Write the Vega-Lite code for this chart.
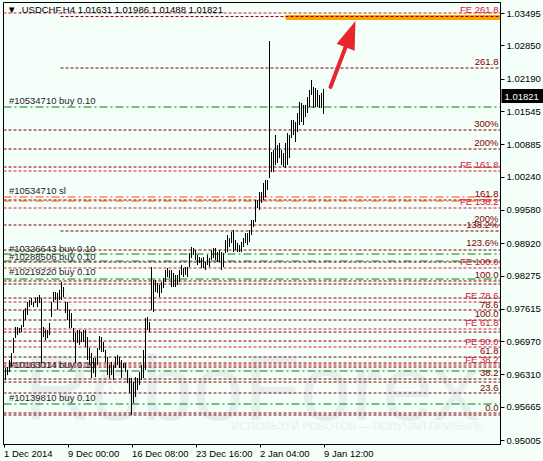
{
"$schema":"https://vega.github.io/schema/vega-lite/v6.json",
"width":497,"height":442,
"autosize":{"type":"none"},
"padding":{"left":3,"top":2,"right":43,"bottom":17},
"background":"#F5FFFA",
"config":{"view":{"stroke":"#000","strokeWidth":1},"font":"Liberation Sans","axis":{"title":null,"grid":false,"labelOverlap":false,"labelFlush":false,"labelBound":false}},
"title":{"text":"▼ .USDCHF,H4  1.01631 1.01986 1.01488 1.01821","anchor":"start","frame":"group","offset":-12,"dx":4,"fontSize":9.5,"fontWeight":"normal","color":"#000","font":"Liberation Sans"},
"datasets":{
"bars":[
{"i":0,"h":0.96397,"l":0.96138},{"i":1,"h":0.96437,"l":0.96198},{"i":2,"h":0.96456,"l":0.96297},{"i":3,"h":0.96596,"l":0.96357},{"i":4,"h":0.96735,"l":0.96456},{"i":5,"h":0.97033,"l":0.96735},{"i":6,"h":0.97252,"l":0.97033},{"i":7,"h":0.97252,"l":0.97093},{"i":8,"h":0.97232,"l":0.97133},{"i":9,"h":0.97292,"l":0.97152},
{"i":10,"h":0.9759,"l":0.97252},{"i":11,"h":0.9763,"l":0.97391},{"i":12,"h":0.97749,"l":0.9749},{"i":13,"h":0.97789,"l":0.97649},{"i":14,"h":0.97828,"l":0.97689},{"i":15,"h":0.97749,"l":0.97649},{"i":16,"h":0.97828,"l":0.97729},{"i":17,"h":0.97848,"l":0.97649},{"i":18,"h":0.97888,"l":0.97729},{"i":19,"h":0.97828,"l":0.96536},
{"i":20,"h":0.97252,"l":0.97053},{"i":21,"h":0.97192,"l":0.96993},{"i":22,"h":0.97192,"l":0.97033},{"i":23,"h":0.97331,"l":0.97093},{"i":24,"h":0.97749,"l":0.97451},{"i":25,"h":0.97948,"l":0.97749},{"i":26,"h":0.97948,"l":0.97789},{"i":27,"h":0.97928,"l":0.9759},{"i":28,"h":0.97987,"l":0.97789},{"i":29,"h":0.98147,"l":0.97789},
{"i":30,"h":0.98047,"l":0.97848},{"i":31,"h":0.97749,"l":0.9753},{"i":32,"h":0.97749,"l":0.97391},{"i":33,"h":0.9759,"l":0.97232},{"i":34,"h":0.9753,"l":0.97232},{"i":35,"h":0.97232,"l":0.96954},{"i":36,"h":0.97133,"l":0.96536},{"i":37,"h":0.97192,"l":0.96934},{"i":38,"h":0.97192,"l":0.96894},{"i":39,"h":0.97152,"l":0.96954},
{"i":40,"h":0.97192,"l":0.96954},{"i":41,"h":0.97192,"l":0.96854},{"i":42,"h":0.97053,"l":0.96596},{"i":43,"h":0.96834,"l":0.96496},{"i":44,"h":0.96735,"l":0.96238},{"i":45,"h":0.96635,"l":0.96337},{"i":46,"h":0.96635,"l":0.96258},{"i":47,"h":0.96834,"l":0.96496},{"i":48,"h":0.97073,"l":0.96795},{"i":49,"h":0.97053,"l":0.96755},
{"i":50,"h":0.96954,"l":0.96755},{"i":51,"h":0.96795,"l":0.96556},{"i":52,"h":0.96655,"l":0.96297},{"i":53,"h":0.96496,"l":0.96238},{"i":54,"h":0.96556,"l":0.96297},{"i":55,"h":0.96496,"l":0.96198},{"i":56,"h":0.96655,"l":0.96437},{"i":57,"h":0.96695,"l":0.96496},{"i":58,"h":0.96655,"l":0.96437},{"i":59,"h":0.96596,"l":0.96238},
{"i":60,"h":0.96536,"l":0.96437},{"i":61,"h":0.96536,"l":0.96357},{"i":62,"h":0.96397,"l":0.96138},{"i":63,"h":0.96238,"l":0.9594},{"i":64,"h":0.96238,"l":0.95502},{"i":65,"h":0.96158,"l":0.95741},{"i":66,"h":0.96258,"l":0.9586},{"i":67,"h":0.96238,"l":0.95999},{"i":68,"h":0.96357,"l":0.96099},{"i":69,"h":0.96496,"l":0.96198},
{"i":70,"h":0.96795,"l":0.96238},{"i":71,"h":0.97431,"l":0.96397},{"i":72,"h":0.97451,"l":0.97192},{"i":73,"h":0.97351,"l":0.97152},{"i":74,"h":0.98445,"l":0.9759},{"i":75,"h":0.98186,"l":0.9755},{"i":76,"h":0.98186,"l":0.97948},{"i":77,"h":0.98127,"l":0.97928},{"i":78,"h":0.98087,"l":0.97848},{"i":79,"h":0.98147,"l":0.97928},
{"i":80,"h":0.98226,"l":0.98027},{"i":81,"h":0.98385,"l":0.98147},{"i":82,"h":0.98425,"l":0.98246},{"i":83,"h":0.98385,"l":0.98226},{"i":84,"h":0.98385,"l":0.98047},{"i":85,"h":0.98325,"l":0.98047},{"i":86,"h":0.98286,"l":0.98047},{"i":87,"h":0.98286,"l":0.98087},{"i":88,"h":0.98385,"l":0.98147},{"i":89,"h":0.98485,"l":0.98286},
{"i":90,"h":0.98425,"l":0.98246},{"i":91,"h":0.98445,"l":0.98286},{"i":92,"h":0.98445,"l":0.98246},{"i":93,"h":0.98723,"l":0.98445},{"i":94,"h":0.98842,"l":0.98624},{"i":95,"h":0.98823,"l":0.98683},{"i":96,"h":0.98783,"l":0.98584},{"i":97,"h":0.98683,"l":0.98485},{"i":98,"h":0.98644,"l":0.98524},{"i":99,"h":0.98624,"l":0.98425},
{"i":100,"h":0.98644,"l":0.98425},{"i":101,"h":0.98544,"l":0.98385},{"i":102,"h":0.98683,"l":0.98485},{"i":103,"h":0.98624,"l":0.98445},{"i":104,"h":0.98783,"l":0.98584},{"i":105,"h":0.98823,"l":0.98624},{"i":106,"h":0.98823,"l":0.98584},{"i":107,"h":0.98743,"l":0.98544},{"i":108,"h":0.98783,"l":0.98544},{"i":109,"h":0.98743,"l":0.98385},
{"i":110,"h":0.98723,"l":0.98445},{"i":111,"h":0.98982,"l":0.98723},{"i":112,"h":0.99081,"l":0.98743},{"i":113,"h":0.99021,"l":0.98842},{"i":114,"h":0.99141,"l":0.98922},{"i":115,"h":0.9918,"l":0.98743},{"i":116,"h":0.98982,"l":0.98783},{"i":117,"h":0.98922,"l":0.98743},{"i":118,"h":0.98882,"l":0.98743},{"i":119,"h":0.98942,"l":0.98743},
{"i":120,"h":0.99021,"l":0.98842},{"i":121,"h":0.99121,"l":0.98922},{"i":122,"h":0.99121,"l":0.98882},{"i":123,"h":0.9918,"l":0.98942},{"i":124,"h":0.99379,"l":0.99081},{"i":125,"h":0.99379,"l":0.9924},{"i":126,"h":0.99777,"l":0.9934},{"i":127,"h":0.99777,"l":0.99618},{"i":128,"h":0.99936,"l":0.99578},{"i":129,"h":0.99936,"l":0.99717},
{"i":130,"h":1.00115,"l":0.99777},{"i":131,"h":1.00175,"l":0.99837},{"i":132,"h":1.00175,"l":0.99976},{"i":133,"h":1.02938,"l":1.00214},{"i":134,"h":1.00731,"l":1.00334},{"i":135,"h":1.00771,"l":1.00334},{"i":136,"h":1.01069,"l":1.00473},{"i":137,"h":1.00871,"l":1.00513},{"i":138,"h":1.0091,"l":1.00612},{"i":139,"h":1.00771,"l":1.00473},
{"i":140,"h":1.00711,"l":1.00433},{"i":141,"h":1.0091,"l":1.00413},{"i":142,"h":1.01109,"l":1.00473},{"i":143,"h":1.01069,"l":1.00612},{"i":144,"h":1.01368,"l":1.0101},{"i":145,"h":1.01368,"l":1.01069},{"i":146,"h":1.01328,"l":1.0093},{"i":147,"h":1.01507,"l":1.01129},{"i":148,"h":1.01725,"l":1.01268},{"i":149,"h":1.01706,"l":1.01328},
{"i":150,"h":1.01666,"l":1.01268},{"i":151,"h":1.01666,"l":1.01427},{"i":152,"h":1.01825,"l":1.01507},{"i":153,"h":1.01964,"l":1.01626},{"i":154,"h":1.02163,"l":1.01865},{"i":155,"h":1.02024,"l":1.01606},{"i":156,"h":1.02004,"l":1.01626},{"i":157,"h":1.01964,"l":1.01626},{"i":158,"h":1.01865,"l":1.01606},{"i":159,"h":1.01904,"l":1.01606},
{"i":160,"h":1.01986,"l":1.01488}
],
"levels":[
{"p":1.03495,"kind":"fe","s":0},{"p":1.03425,"kind":"fib","s":28.5},{"p":1.02401,"kind":"fib","s":28.5},{"p":1.01626,"kind":"order","s":0},
{"p":1.01169,"kind":"fib","s":0},{"p":1.00791,"kind":"fib","s":0},{"p":1.00433,"kind":"fib","s":0},{"p":1.00354,"kind":"fe","s":0},
{"p":0.99837,"kind":"sl","s":0},{"p":0.99777,"kind":"fib","s":0},{"p":0.99757,"kind":"sl","s":0},{"p":0.99618,"kind":"fe","s":0},
{"p":0.9928,"kind":"fib","s":0},{"p":0.99161,"kind":"fib","s":28.5},{"p":0.98783,"kind":"fib","s":0},{"p":0.98703,"kind":"order","s":0},
{"p":0.98564,"kind":"order","s":0},{"p":0.98544,"kind":"fib","s":0},{"p":0.98425,"kind":"fe","s":0},{"p":0.98206,"kind":"order","s":0},
{"p":0.98167,"kind":"fib","s":0},{"p":0.98107,"kind":"fib","s":0},{"p":0.97828,"kind":"fib","s":0},{"p":0.97749,"kind":"fe","s":0},
{"p":0.9759,"kind":"fib","s":0},{"p":0.97391,"kind":"fib","s":0},{"p":0.97212,"kind":"fe","s":0},{"p":0.97152,"kind":"fib","s":0},
{"p":0.96973,"kind":"fib","s":0},{"p":0.96854,"kind":"fe","s":0},{"p":0.96655,"kind":"fib","s":0},{"p":0.96536,"kind":"fib","s":0},
{"p":0.96496,"kind":"fe","s":0},{"p":0.96456,"kind":"fib","s":0},{"p":0.96377,"kind":"order","s":0},{"p":0.96218,"kind":"fib","s":0},
{"p":0.96158,"kind":"fib","s":0},{"p":0.9594,"kind":"fib","s":0},{"p":0.95721,"kind":"order","s":0},{"p":0.95542,"kind":"fib","s":0},
{"p":0.95502,"kind":"fib","s":0}
],
"rlabels":[
{"p":1.03555,"t":"FE 261.8","kind":"fe"},{"p":1.02521,"t":"261.8","kind":"fib"},{"p":1.01288,"t":"300%","kind":"fib"},{"p":1.0091,"t":"200%","kind":"fib"},
{"p":1.00473,"t":"FE 161.8","kind":"fe"},{"p":0.99896,"t":"161.8","kind":"fib"},{"p":0.99737,"t":"FE 138.2","kind":"fe"},{"p":0.99399,"t":"200%","kind":"fib"},
{"p":0.9928,"t":"138.2%","kind":"fib"},{"p":0.98922,"t":"123.6%","kind":"fib"},{"p":0.98544,"t":"FE 100.0","kind":"fe"},{"p":0.98286,"t":"100.0","kind":"fib"},
{"p":0.97868,"t":"FE 78.6","kind":"fe"},{"p":0.97689,"t":"78.6","kind":"fib"},{"p":0.9751,"t":"100.0","kind":"fib"},{"p":0.97331,"t":"FE 61.8","kind":"fe"},
{"p":0.96954,"t":"FE 50.0","kind":"fe"},{"p":0.96775,"t":"61.8","kind":"fib"},{"p":0.96596,"t":"FE 38.2","kind":"fe"},{"p":0.96337,"t":"38.2","kind":"fib"},
{"p":0.96039,"t":"23.6","kind":"fib"},{"p":0.95641,"t":"0.0","kind":"fib"}
],
"llabels":[
{"p":1.01745,"t":"#10534710 buy 0.10"},{"p":0.99956,"t":"#10534710 sl"},{"p":0.98803,"t":"#10326643 buy 0.10"},{"p":0.98644,"t":"#10288506 buy 0.10"},
{"p":0.98345,"t":"#10219220 buy 0.10"},{"p":0.96496,"t":"#10163014 buy 0.10"},{"p":0.9584,"t":"#10139810 buy 0.10"}
],
"band":[{"a":141,"b":248.25,"hi":1.03455,"lo":1.03356}],
"trend":[{"a":29.5,"pa":0.98087,"b":59.5,"pb":0.95542}],
"arrow":[{"a":163.5,"pa":1.02024,"b":172,"pb":1.02918,"hx":172.9,"hp":1.0301}],
"last":[{"a":249,"b":270,"hi":1.01984,"lo":1.01706,"tx":250.5,"c":1.01821,"t":"1.01821"}],
"marks":[{"x":124,"p":0.95403,"t":"RoboForex","sz":92},{"x":177,"p":0.95204,"t":"ИСПОЛЬЗУЙ РОБОТОВ — ПОЛУЧАЙ ПРИБЫЛЬ","sz":11}]
},
"layer":[
{"data":{"name":"bars"},"mark":{"type":"rule","color":"#000","strokeWidth":1},
"encoding":{"x":{"field":"i","type":"quantitative","scale":{"domain":[-0.25,248.25],"nice":false,"zero":false},
"axis":{"orient":"bottom","values":[0,32,64,96,128,160],"tickCount":20,"labelExpr":"{'0':'1 Dec 2014','32':'9 Dec 00:00','64':'16 Dec 08:00','96':'23 Dec 16:00','128':'2 Jan 04:00','160':'9 Jan 12:00'}[''+datum.value]","labelAlign":"left","labelBaseline":"top","tickSize":3,"labelPadding":1,"labelFontSize":9.5,"labelFont":"Liberation Sans","labelColor":"#000","labelFlush":false,"labelOverlap":false,"domainColor":"#000","tickColor":"#000"}},
"y":{"field":"h","type":"quantitative","scale":{"domain":[0.94926,1.03714],"nice":false,"zero":false},
"axis":{"orient":"right","values":[1.03495,1.0285,1.0219,1.01545,1.00885,1.0024,0.9958,0.9892,0.98275,0.97615,0.9697,0.9631,0.95665,0.95005],"tickCount":30,"format":".5f","tickSize":4,"labelPadding":2,"labelFontSize":9.5,"labelFont":"Liberation Sans","labelColor":"#000","domainColor":"#000","tickColor":"#000","labelOverlap":false,"labelFlush":false,"labelBound":false}},
"y2":{"field":"l"}}},
{"data":{"name":"marks"},"mark":{"type":"text","color":"#E6F0EF","align":"center","baseline":"alphabetic","font":"Liberation Sans"},
"encoding":{"x":{"field":"x","type":"quantitative"},
"y":{"field":"p","type":"quantitative"},
"text":{"field":"t"},"size":{"field":"sz","type":"quantitative","scale":null}}},
{"data":{"name":"band"},"mark":{"type":"rect","color":"#FFA500"},
"encoding":{"x":{"field":"a","type":"quantitative"},"x2":{"field":"b"},
"y":{"field":"hi","type":"quantitative"},"y2":{"field":"lo"}}},
{"data":{"name":"levels"},"mark":{"type":"rule","strokeWidth":1},
"encoding":{"x":{"field":"s","type":"quantitative"},"x2":{"datum":248.25},
"y":{"field":"p","type":"quantitative"},
"color":{"field":"kind","type":"nominal","scale":{"domain":["fe","fib","order","sl"],"range":["#DC143C","#800000","#008000","#FF4500"]},"legend":null},
"strokeDash":{"field":"kind","type":"nominal","scale":{"domain":["fe","fib","order","sl"],"range":[[3,2],[3,2],[8,3,2,3],[8,3,2,3]]},"legend":null}}},
{"data":{"name":"trend"},"mark":{"type":"rule","color":"#F2C9A2","strokeWidth":1,"strokeDash":[1,2]},
"encoding":{"x":{"field":"a","type":"quantitative"},"x2":{"field":"b"},
"y":{"field":"pa","type":"quantitative"},"y2":{"field":"pb"}}},
{"data":{"name":"llabels"},"mark":{"type":"text","align":"left","baseline":"middle","fontSize":9.5,"color":"#1E1E1E","font":"Liberation Sans"},
"encoding":{"x":{"datum":2.7,"type":"quantitative"},
"y":{"field":"p","type":"quantitative"},"text":{"field":"t"}}},
{"data":{"name":"rlabels"},"mark":{"type":"text","align":"right","baseline":"middle","fontSize":9.5,"font":"Liberation Sans"},
"encoding":{"x":{"datum":247.5,"type":"quantitative"},
"y":{"field":"p","type":"quantitative"},"text":{"field":"t"},
"color":{"field":"kind","type":"nominal","scale":{"domain":["fe","fib","order","sl"],"range":["#DC143C","#800000","#008000","#FF4500"]},"legend":null}}},
{"data":{"name":"bars"},"mark":{"type":"rule","color":"#000","strokeWidth":1},
"encoding":{"x":{"field":"i","type":"quantitative"},"y":{"field":"h","type":"quantitative"},"y2":{"field":"l"}}},
{"data":{"name":"arrow"},"mark":{"type":"rule","color":"#E8242C","strokeWidth":4,"strokeCap":"round"},
"encoding":{"x":{"field":"a","type":"quantitative"},"x2":{"field":"b"},
"y":{"field":"pa","type":"quantitative"},"y2":{"field":"pb"}}},
{"data":{"name":"arrow"},"mark":{"type":"point","filled":true,"color":"#E8242C","opacity":1,"shape":"M0,-1L0.55,0.6L-0.55,0.6Z","size":1225,"angle":20.7},
"encoding":{"x":{"field":"hx","type":"quantitative"},
"y":{"field":"hp","type":"quantitative"}}},
{"data":{"name":"last"},"mark":{"type":"rect","color":"#000"},
"encoding":{"x":{"field":"a","type":"quantitative"},"x2":{"field":"b"},
"y":{"field":"hi","type":"quantitative"},"y2":{"field":"lo"}}},
{"data":{"name":"last"},"mark":{"type":"text","color":"#FFF","align":"left","baseline":"middle","fontSize":9.5,"font":"Liberation Sans"},
"encoding":{"x":{"field":"tx","type":"quantitative"},
"y":{"field":"c","type":"quantitative"},"text":{"field":"t"}}}
]
}
